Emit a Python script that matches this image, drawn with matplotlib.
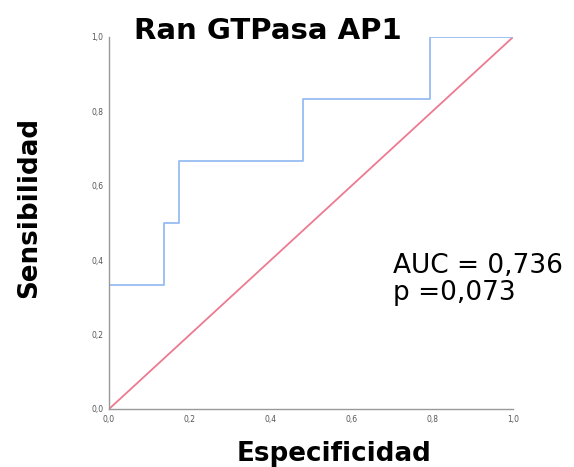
import matplotlib
matplotlib.use("Agg")
import matplotlib.pyplot as plt

# ROC data (1 - especificidad, sensibilidad)
fpr = [0.0, 0.0, 0.136, 0.136, 0.173, 0.173, 0.48, 0.48, 0.795, 0.795, 1.0]
tpr = [0.0, 0.333, 0.333, 0.5, 0.5, 0.667, 0.667, 0.833, 0.833, 1.0, 1.0]
ref = [0.0, 1.0]
ticks = [0.0, 0.2, 0.4, 0.6, 0.8, 1.0]
tick_labels = ["0,0", "0,2", "0,4", "0,6", "0,8", "1,0"]

plt.rcParams['font.family'] = ['DejaVu Sans']

fig = plt.figure(figsize=(5.74, 4.67), dpi=100)
ax = fig.add_axes([0.190, 0.1242, 0.704, 0.7966])

ax.plot(ref, ref, color="#ec7a90", lw=1.3)
ax.plot(fpr, tpr, color="#96bdf2", lw=1.3)

ax.set_xlim(0, 1)
ax.set_ylim(0, 1)
ax.set_xticks(ticks)
ax.set_xticklabels(tick_labels)
ax.set_yticks(ticks)
ax.set_yticklabels(tick_labels)
ax.tick_params(length=0, labelsize=5.5, labelcolor="#555555", pad=4)
for s in ["top", "right"]:
    ax.spines[s].set_visible(False)
for s in ["left", "bottom"]:
    ax.spines[s].set_color("#999999")
    ax.spines[s].set_linewidth(1.0)

fig.text(0.467, 0.9165, "Ran GTPasa AP1", fontsize=21, fontweight="bold",
         ha="center", va="baseline")
fig.text(0.582, 0.0128, "Especificidad", fontsize=18.8, fontweight="bold",
         ha="center", va="baseline")
fig.text(0.05, 0.555, "Sensibilidad", fontsize=18.8, fontweight="bold",
         ha="center", va="center", rotation=90)
fig.text(0.685, 0.4154, "AUC = 0,736", fontsize=19, ha="left", va="baseline")
fig.text(0.685, 0.3576, "p =0,073", fontsize=19, ha="left", va="baseline")

fig.savefig("out.png", dpi=100)
